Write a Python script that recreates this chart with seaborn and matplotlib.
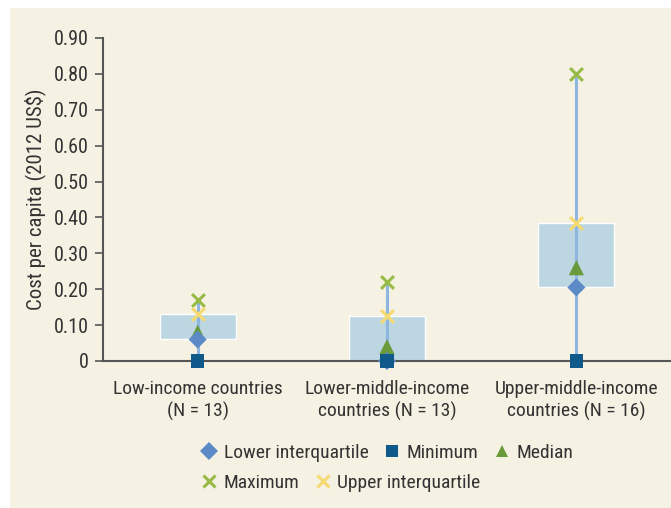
import pandas as pd
import seaborn as sns
import matplotlib.pyplot as plt
from matplotlib.patches import Rectangle

groups   = ['Low-income countries\n(N = 13)',
            'Lower-middle-income\ncountries (N = 13)',
            'Upper-middle-income\ncountries (N = 16)']
minimum  = [0.0, 0.0, 0.0]
lower_iq = [0.06, 0.0, 0.205]
median   = [0.08, 0.04, 0.26]
upper_iq = [0.13, 0.125, 0.385]
maximum  = [0.17, 0.22, 0.80]
yticks   = [0, 0.1, 0.2, 0.3, 0.4, 0.5, 0.6, 0.7, 0.8, 0.9]
ylabels  = ['0', '0.10', '0.20', '0.30', '0.40', '0.50', '0.60', '0.70', '0.80', '0.90']

sns.set_style('white')
plt.rcParams['font.family'] = ['Roboto Condensed', 'DejaVu Sans']
plt.rcParams['font.stretch'] = 'condensed'

bg = '#f5f1e3'
txt = '#333333'
fig = plt.figure(figsize=(6.71, 5.08), dpi=100)
fig.patch.set_facecolor('white')
fig.patches.append(Rectangle((10 / 671, 0), 1, 1 - 8 / 508, transform=fig.transFigure,
                             facecolor=bg, edgecolor='none', zorder=-10))
ax = fig.add_axes([103 / 671, 1 - 361 / 508, 1 - 103 / 671, (361 - 38) / 508])
ax.set_facecolor(bg)
ax.patch.set_alpha(0)

pos = list(range(len(groups)))
box_h = [u - l for u, l in zip(upper_iq, lower_iq)]
ax.bar(pos, box_h, bottom=lower_iq, width=0.4, color='#bcd6e2', zorder=1)
ax.vlines(pos, minimum, maximum, color='#8fb6de', lw=2.2, zorder=2)

series = [
    ('Median', median, '^', '#6a9a3a', 120, 0),
    ('Lower interquartile', lower_iq, 'D', '#5b8ac6', 85, 0),
    ('Minimum', minimum, 's', '#0f5a8a', 95, 0),
    ('Maximum', maximum, 'x', '#98bb48', 85, 2.2),
    ('Upper interquartile', upper_iq, 'x', '#f6d970', 85, 2.2),
]
handles = {}
for name, vals, mk, col, size, lw in series:
    df = pd.DataFrame({'x': pos, 'y': vals})
    if mk == 'x':
        sns.scatterplot(data=df, x='x', y='y', marker=mk, color=col, s=size,
                        linewidth=lw, ax=ax, zorder=4, clip_on=False, legend=False)
    else:
        sns.scatterplot(data=df, x='x', y='y', marker=mk, color=col, s=size,
                        edgecolor='none', ax=ax, zorder=4, clip_on=False, legend=False)
    handles[name] = plt.Line2D([], [], ls='none', marker=mk, color=col,
                               markersize=9 if mk != 'x' else 8,
                               markeredgewidth=lw if mk == 'x' else 0)

ax.set_xlim(-0.5, 2.5)
ax.set_ylim(0, 0.9)
ax.set_xticks(pos)
ax.set_xticklabels(groups, fontsize=14, color=txt, linespacing=1.25)
ax.set_xticks([-0.5, 0.5, 1.5, 2.5], minor=True)
ax.tick_params(axis='x', which='major', length=0, pad=14)
ax.tick_params(axis='x', which='minor', length=6, width=1.5, color='#555555', direction='out')
ax.set_yticks(yticks)
ax.set_yticklabels(ylabels, fontsize=14.5, color=txt)
ax.tick_params(axis='y', length=6, width=1.2, color='#555555', direction='out', left=True, pad=4)
ax.set_xlabel('')
ax.set_ylabel('Cost per capita (2012 US\\$)', fontsize=15, color=txt, labelpad=6)
for s in ['top', 'right']:
    ax.spines[s].set_visible(False)
for s in ['left', 'bottom']:
    ax.spines[s].set_color('#555555')
    ax.spines[s].set_linewidth(1.5)

row1 = ['Lower interquartile', 'Minimum', 'Median']
row2 = ['Maximum', 'Upper interquartile']
fig.legend([handles[n] for n in row1], row1, loc='center left',
           bbox_to_anchor=(180 / 671, 1 - 453 / 508), ncol=3, frameon=False, labelcolor=txt,
           fontsize=14, handletextpad=0.15, columnspacing=0.6, handlelength=1.2)
fig.legend([handles[n] for n in row2], row2, loc='center left',
           bbox_to_anchor=(180 / 671, 1 - 483 / 508), ncol=2, frameon=False, labelcolor=txt,
           fontsize=14, handletextpad=0.15, columnspacing=0.6, handlelength=1.2)

fig.savefig('out.png', dpi=100, facecolor=fig.get_facecolor())
